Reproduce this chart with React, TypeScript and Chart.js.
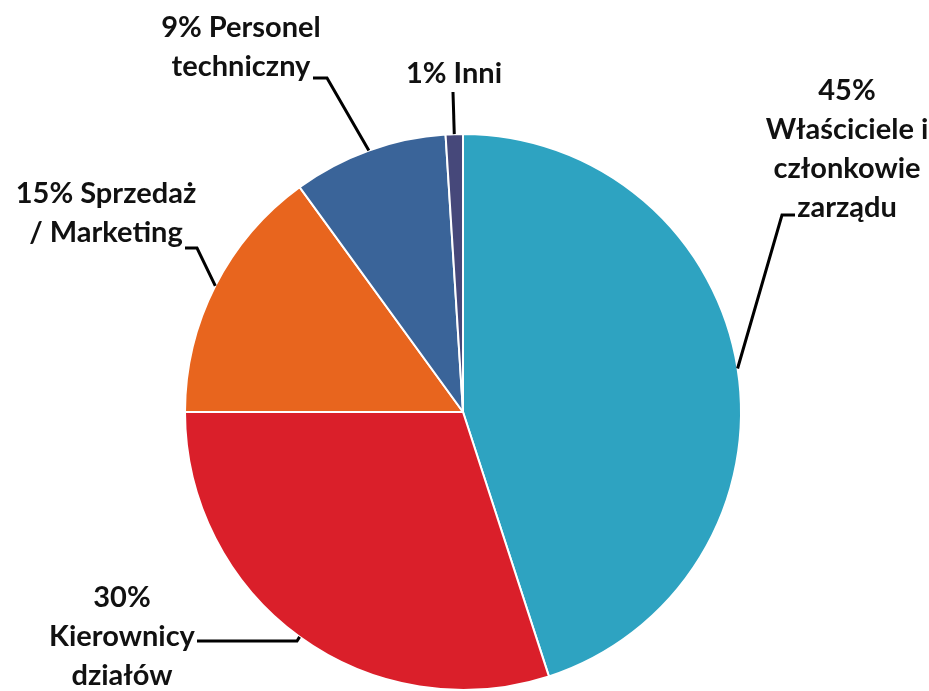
import { useEffect, useRef } from "react";
import { Chart, registerables } from "chart.js";

Chart.register(...registerables);

const categories = [
  "Właściciele i członkowie zarządu",
  "Kierownicy działów",
  "Sprzedaż / Marketing",
  "Personel techniczny",
  "Inni",
];
const values = [45, 30, 15, 9, 1];
const labelLines = [
  ["45%", "Właściciele i", "członkowie", "zarządu"],
  ["30%", "Kierownicy", "działów"],
  ["15% Sprzedaż", "/ Marketing"],
  ["9% Personel", "techniczny"],
  ["1% Inni"],
];
const colors = ["#2ea3c1", "#da1f2a", "#e8651e", "#3a6499", "#46487a"];

// label placement (text center x, first baseline y, elbow point, end of horizontal)
const labelLayout = [
  { cx: 847, y: 100, ex: 782, ey: 215, hx: 795 },
  { cx: 122, y: 607, ex: 297, ey: 641, hx: 197 },
  { cx: 106, y: 203, ex: 197, ey: 248, hx: 185 },
  { cx: 241, y: 37, ex: 327, ey: 78, hx: 313 },
  { cx: 454, y: 83, ex: 453, ey: 92, hx: 453 },
];
const LINE_H = 39;
const FONT = "bold 29px Lato, 'Open Sans', sans-serif";

const labelPlugin = {
  id: "leaderLabels",
  afterDraw(chart: any) {
    const ctx = chart.ctx as CanvasRenderingContext2D;
    const meta = chart.getDatasetMeta(0);
    ctx.save();
    ctx.font = FONT;
    ctx.fillStyle = "#111";
    ctx.textAlign = "center";
    ctx.textBaseline = "alphabetic";
    meta.data.forEach((arc: any, i: number) => {
      const L = labelLayout[i];
      const lines = labelLines[i];
      lines.forEach((t, k) => ctx.fillText(t, L.cx, L.y + k * LINE_H));
      const mid = (arc.startAngle + arc.endAngle) / 2;
      const px = arc.x + Math.cos(mid) * arc.outerRadius;
      const py = arc.y + Math.sin(mid) * arc.outerRadius;
      ctx.beginPath();
      ctx.strokeStyle = "#000";
      ctx.lineWidth = 3;
      ctx.lineJoin = "miter";
      ctx.moveTo(px, py);
      ctx.lineTo(L.ex, L.ey);
      ctx.lineTo(L.hx, L.ey);
      ctx.stroke();
    });
    ctx.restore();
  },
};

export default function App() {
  const ref = useRef<HTMLCanvasElement>(null);
  useEffect(() => {
    if (!ref.current) return;
    const chart = new Chart(ref.current, {
      type: "pie",
      data: {
        labels: categories,
        datasets: [
          {
            data: values,
            backgroundColor: colors,
            borderColor: "#ffffff",
            borderWidth: 2,
          },
        ],
      },
      options: {
        animation: false,
        responsive: true,
        maintainAspectRatio: false,
        layout: { padding: { left: 184, right: 187, top: 133, bottom: 0 } },
        plugins: {
          legend: { display: false },
          tooltip: { enabled: false },
        },
      },
      plugins: [labelPlugin],
    });
    return () => chart.destroy();
  }, []);
  return (
    <div style={{ position: "absolute", left: 0, top: 0, width: 929, height: 691, background: "#fff" }}>
      <canvas ref={ref} />
    </div>
  );
}
